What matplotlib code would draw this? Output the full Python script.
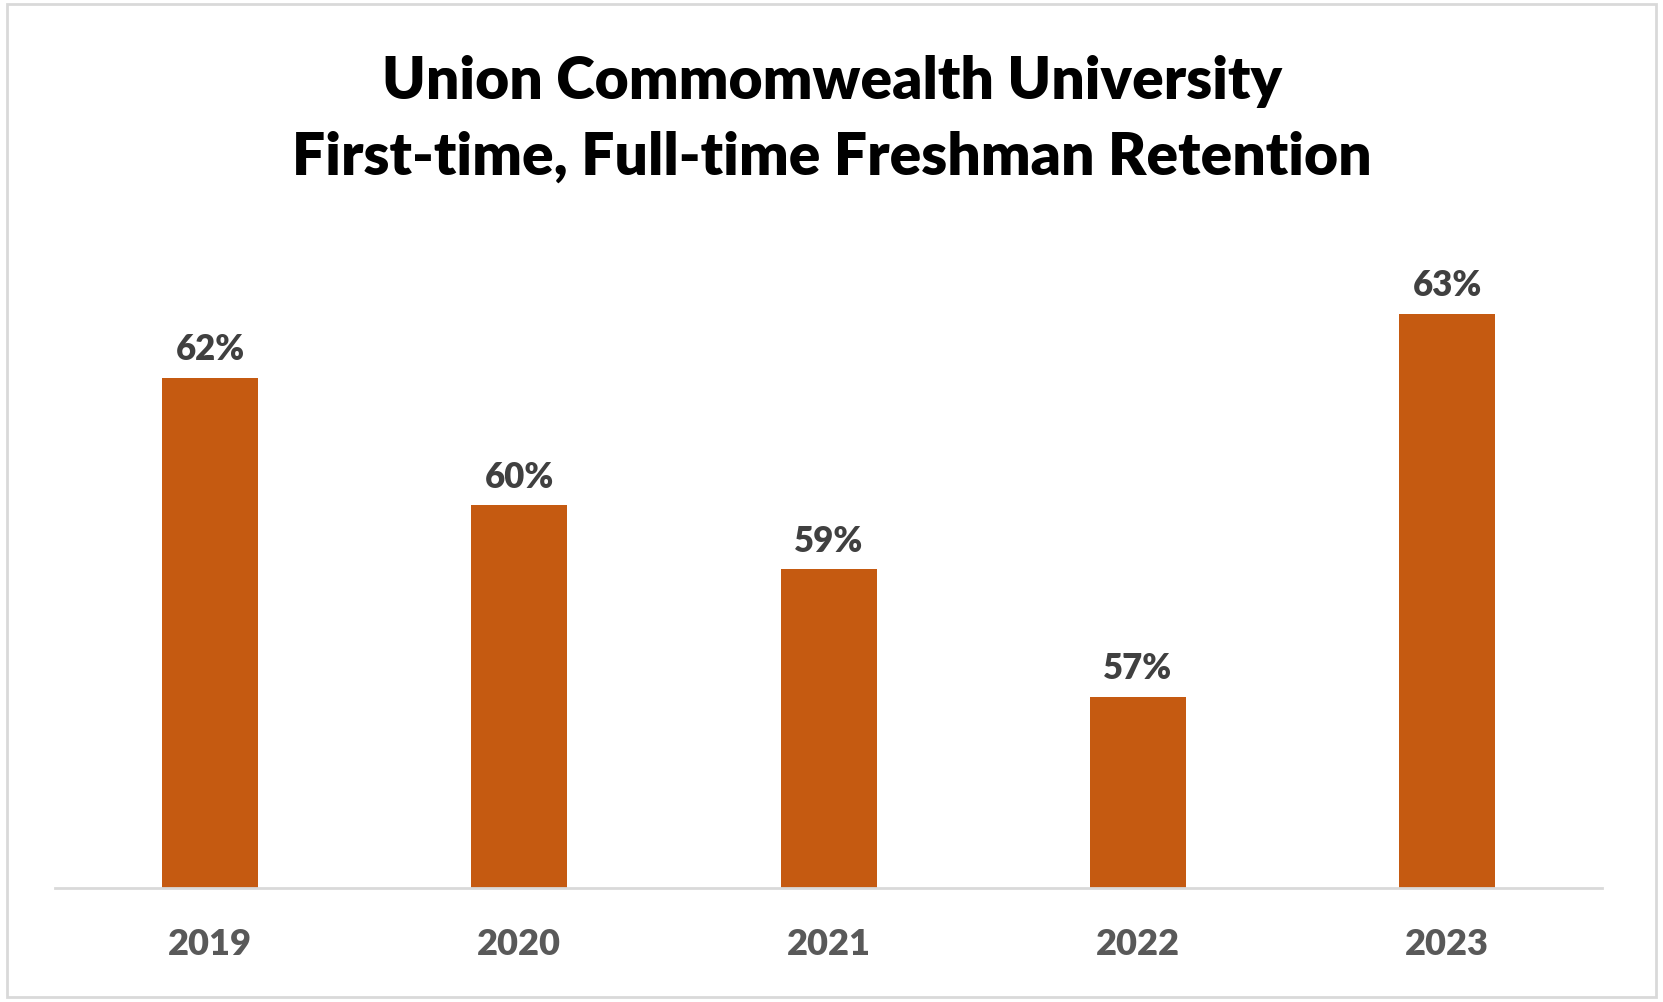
import matplotlib.pyplot as plt
from matplotlib.patches import Rectangle

# chart data
years = ['2019', '2020', '2021', '2022', '2023']
retention = [62, 60, 59, 57, 63]
title = 'Union Commomwealth University\nFirst-time, Full-time Freshman Retention'

plt.rcParams['font.family'] = ['Lato', 'DejaVu Sans']

fig = plt.figure(figsize=(16.63, 10.03), dpi=100)
ax = fig.add_axes([0.0333, 0.1135, 0.9300, 0.6362])

x = range(len(years))
bars = ax.bar(x, retention, width=0.31, color='#C55A11', zorder=2)

ax.set_ylim(54, 64)
ax.set_xlim(-0.5, len(years) - 0.5)

# value labels above bars
for b, v in zip(bars, retention):
    ax.annotate(f'{v}%', (b.get_x() + b.get_width() / 2, b.get_height()),
                xytext=(0, 9), textcoords='offset points',
                ha='center', va='bottom', fontsize=25, fontweight='heavy',
                color='#404040')

ax.set_xticks(list(x))
ax.set_xticklabels(years, fontsize=26, fontweight='heavy', color='#595959')
ax.tick_params(axis='x', length=0, pad=28)
ax.set_yticks([])

for s in ['top', 'right', 'left']:
    ax.spines[s].set_visible(False)
ax.spines['bottom'].set_color('#D9D9D9')
ax.spines['bottom'].set_linewidth(2)

fig.text(0.5, 0.881, title, ha='center', va='center', fontsize=42.2,
         fontweight='heavy', color='black', linespacing=1.5)

# outer chart frame
fig.patches.append(Rectangle((0.004, 0.005), 0.992, 0.99, transform=fig.transFigure,
                             fill=False, edgecolor='#D9D9D9', linewidth=2))

fig.savefig('out.png', dpi=100)
